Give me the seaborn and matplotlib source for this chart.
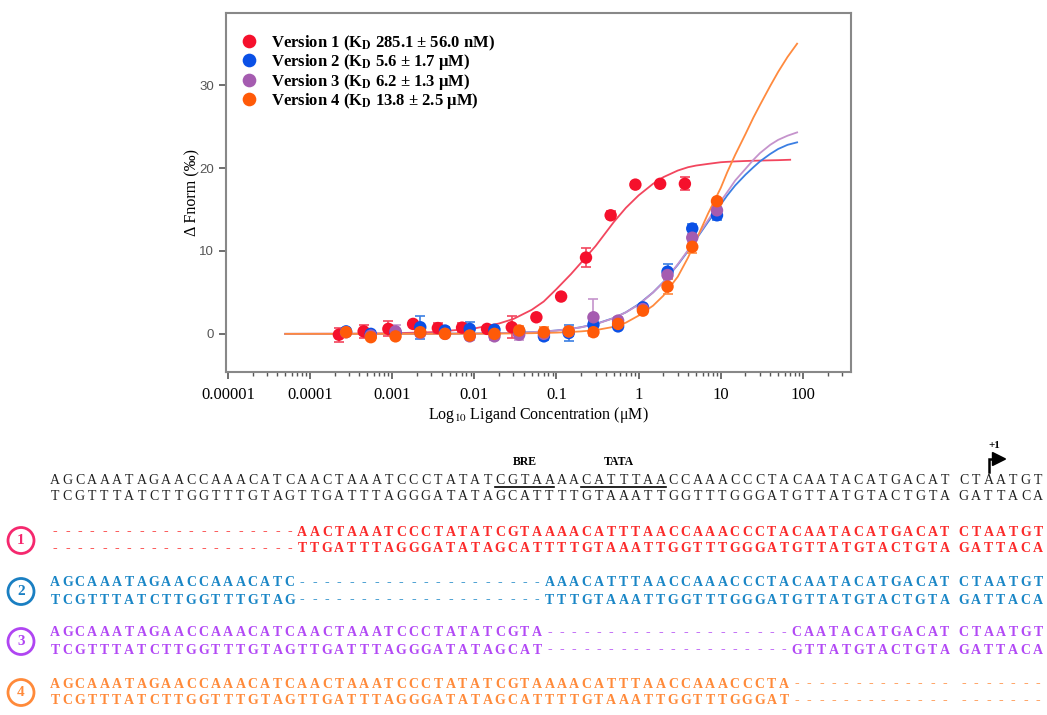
"""MST binding curves for four promoter versions plus the sequence alignment."""

import matplotlib

matplotlib.use("Agg")

import matplotlib.pyplot as plt
import pandas as pd
import seaborn as sns
from matplotlib.patches import Circle, Polygon
from matplotlib.ticker import LogLocator, NullFormatter

VERSIONS = ["Version 1", "Version 2", "Version 3", "Version 4"]
LEGEND_LABELS = [
    r"Version 1 (K$_{\mathbf{D}}$ 285.1 ± 56.0 nM)",
    r"Version 2 (K$_{\mathbf{D}}$ 5.6 ± 1.7 μM)",
    r"Version 3 (K$_{\mathbf{D}}$ 6.2 ± 1.3 μM)",
    r"Version 4 (K$_{\mathbf{D}}$ 13.8 ± 2.5 μM)",
]
POINT_COLORS = ["#f5102c", "#0a50e6", "#a55cb0", "#ff5a08"]
LINE_COLORS = ["#f2465e", "#3b7fe3", "#c593cc", "#ff8a3e"]

# ligand concentrations (uM)
conc_v1 = [0.000225, 0.00045, 0.0009, 0.0018, 0.0036, 0.0071, 0.0143, 0.0286,
           0.057, 0.114, 0.229, 0.457, 0.914, 1.83, 3.66]
conc_v234 = [0.000275, 0.00055, 0.0011, 0.0022, 0.0044, 0.0088, 0.0176, 0.0352,
             0.0704, 0.141, 0.282, 0.563, 1.13, 2.25, 4.5, 9.0]

fnorm_v1 = [-0.1, 0.3, 0.6, 1.2, 0.7, 0.75, 0.6, 0.8, 2.0, 4.5, 9.2, 14.3, 18.0, 18.1, 18.1]
err_v1 = [0.85, 0.75, 0.9, 0.3, 0.6, 0.5, 0.4, 1.3, 0.2, 0.3, 1.1, 0.5, 0.3, 0.3, 0.8]
fnorm_v2 = [0.3, 0.0, 0.2, 0.8, 0.4, 0.6, 0.5, 0.3, -0.3, 0.1, 1.1, 0.9, 3.2, 7.5, 12.7, 14.3]
err_v2 = [0.4, 0.3, 0.4, 1.4, 0.4, 0.8, 0.4, 0.3, 0.5, 1.0, 0.4, 0.3, 0.3, 0.9, 0.6, 0.6]
fnorm_v3 = [0.2, -0.2, 0.3, 0.1, 0.0, -0.3, -0.3, -0.1, 0.0, 0.3, 2.0, 1.6, 3.0, 7.1, 11.6, 14.9]
err_v3 = [0.3, 0.4, 0.8, 0.4, 0.3, 0.4, 0.4, 0.7, 0.3, 0.3, 2.2, 0.4, 0.3, 0.5, 0.5, 0.4]
fnorm_v4 = [0.2, -0.4, -0.3, 0.2, 0.0, -0.2, 0.0, 0.4, 0.2, 0.3, 0.2, 1.2, 2.8, 5.7, 10.5, 16.0]
err_v4 = [0.4, 0.3, 0.2, 0.5, 0.2, 0.3, 0.3, 0.5, 0.6, 0.5, 0.3, 0.4, 0.3, 0.9, 0.8, 0.3]

# fitted curves
curve_conc = [0.00005, 0.0001, 0.0003, 0.001, 0.003, 0.01, 0.02, 0.03, 0.05, 0.07,
              0.1, 0.15, 0.2, 0.3, 0.5, 0.7, 1, 1.5, 2, 3, 4, 5, 7, 10, 12, 15, 20,
              25, 30, 40, 50, 65, 85]
curve_conc_v1 = curve_conc[:-2] + [70]
curve_v1 = [0.0, 0.01, 0.02, 0.07, 0.2, 0.65, 1.25, 1.8, 2.9, 3.9, 5.4, 7.2, 8.6, 10.6,
            13.5, 15.2, 16.7, 18.1, 18.9, 19.7, 20.1, 20.3, 20.5, 20.7, 20.75, 20.8,
            20.85, 20.88, 20.9, 20.93, 20.95, 21.0]
curve_v2 = [0.0, 0.0, 0.0, 0.004, 0.012, 0.04, 0.08, 0.12, 0.21, 0.29, 0.41, 0.61, 0.81,
            1.19, 1.92, 2.6, 3.57, 5.0, 6.25, 8.33, 10.0, 11.4, 13.5, 15.6, 16.7, 17.9,
            19.2, 20.1, 20.8, 21.7, 22.3, 22.8, 23.1]
curve_v3 = [0.0, 0.0, 0.0, 0.004, 0.012, 0.04, 0.08, 0.12, 0.2, 0.28, 0.4, 0.6, 0.79,
            1.17, 1.9, 2.6, 3.5, 5.0, 6.2, 8.4, 10.1, 11.5, 13.7, 16.0, 17.1, 18.5,
            19.9, 21.0, 21.8, 22.8, 23.4, 23.9, 24.3]
curve_v4 = [0.0, 0.0, 0.0, 0.0, 0.005, 0.02, 0.035, 0.05, 0.08, 0.11, 0.15, 0.23, 0.3,
            0.45, 0.85, 1.35, 2.2, 3.4, 4.6, 6.9, 9.2, 11.3, 14.5, 17.6, 19.5, 21.6,
            24.1, 26.1, 27.6, 29.9, 31.6, 33.4, 35.0]

XTICKS = [1e-5, 1e-4, 1e-3, 1e-2, 1e-1, 1, 10, 100]
XTICK_LABELS = ["0.00001", "0.0001", "0.001", "0.01", "0.1", "1", "10", "100"]
YTICKS = [0, 10, 20, 30]

# promoter sequences
REF_TOP = "AGCAAATAGAACCAAACATCAACTAAATCCCTATATCGTAAAACATTTAACCAAACCCTACAATACATGACATCTAATGT"
REF_BOTTOM = "TCGTTTATCTTGGTTTGTAGTTGATTTAGGGATATAGCATTTTGTAAATTGGTTTGGGATGTTATGTACTGTAGATTACA"
VARIANT_TOP = [
    "--------------------AACTAAATCCCTATATCGTAAAACATTTAACCAAACCCTACAATACATGACATCTAATGT",
    "AGCAAATAGAACCAAACATC--------------------AAACATTTAACCAAACCCTACAATACATGACATCTAATGT",
    "AGCAAATAGAACCAAACATCAACTAAATCCCTATATCGTA--------------------CAATACATGACATCTAATGT",
    "AGCAAATAGAACCAAACATCAACTAAATCCCTATATCGTAAAACATTTAACCAAACCCTA--------------------",
]
VARIANT_BOTTOM = [
    "--------------------TTGATTTAGGGATATAGCATTTTGTAAATTGGTTTGGGATGTTATGTACTGTAGATTACA",
    "TCGTTTATCTTGGTTTGTAG--------------------TTTGTAAATTGGTTTGGGATGTTATGTACTGTAGATTACA",
    "TCGTTTATCTTGGTTTGTAGTTGATTTAGGGATATAGCAT--------------------GTTATGTACTGTAGATTACA",
    "TCGTTTATCTTGGTTTGTAGTTGATTTAGGGATATAGCATTTTGTAAATTGGTTTGGGAT--------------------",
]
VARIANT_NAMES = ["1", "2", "3", "4"]
VARIANT_TEXT_COLORS = ["#fb2a2a", "#1a86c6", "#b249f5", "#ff8a3a"]
VARIANT_CIRCLE_COLORS = ["#f5286e", "#1a7fc2", "#b045f2", "#ff8a3a"]
BRE_SPAN = (36, 40)
TATA_SPAN = (43, 49)

plt.rcParams["mathtext.fontset"] = "stix"
SERIF = "Liberation Serif"
SANS = "Liberation Sans"

W, H = 1047, 715
fig = plt.figure(figsize=(W / 100, H / 100), dpi=100)

# ---- sequence alignment (pixel coordinates of the figure) ----
seq_ax = fig.add_axes([0, 0, 1, 1])
seq_ax.set_xlim(0, W)
seq_ax.set_ylim(H, 0)
seq_ax.axis("off")

x0, dx, gap = 55, 12.36, 6.5


def col_x(i):
    return x0 + i * dx + (gap if i >= 73 else 0)


def draw_row(s, y, color, weight):
    for i, ch in enumerate(s):
        seq_ax.text(col_x(i), y, ch, ha="center", va="center", color=color,
                    fontsize=10, family=SERIF, fontweight=weight)


draw_row(REF_TOP, 480, "#222222", "normal")
draw_row(REF_BOTTOM, 496, "#222222", "normal")
for lo, hi in (BRE_SPAN, TATA_SPAN):
    seq_ax.plot([col_x(lo) - 5, col_x(hi) + 5], [486.5, 486.5], color="black", lw=1.2)
seq_ax.text((col_x(BRE_SPAN[0]) + col_x(BRE_SPAN[1])) / 2, 462, "BRE", ha="center",
            va="center", fontsize=8.5, family=SERIF, fontweight="bold")
seq_ax.text((col_x(TATA_SPAN[0]) + col_x(TATA_SPAN[1])) / 2 - 5, 462, "TATA",
            ha="center", va="center", fontsize=8.5, family=SERIF, fontweight="bold")

# transcription start arrow
tss = col_x(75)
seq_ax.plot([tss, tss, tss + 5], [472, 459, 459], color="black", lw=1.8,
            solid_joinstyle="miter")
seq_ax.add_patch(Polygon([(tss + 4, 452.5), (tss + 4, 465.5), (tss + 17, 459)],
                         closed=True, color="black"))
seq_ax.text(tss + 6, 446, "+1", ha="center", va="center", fontsize=8, family=SERIF,
            fontweight="bold")

row_y = [532, 583, 633, 684]
for k in range(4):
    y = row_y[k]
    draw_row(VARIANT_TOP[k], y, VARIANT_TEXT_COLORS[k], "bold")
    draw_row(VARIANT_BOTTOM[k], y + 17, VARIANT_TEXT_COLORS[k], "bold")
    seq_ax.add_patch(Circle((21, y + 8.5), 13, fill=False, ec=VARIANT_CIRCLE_COLORS[k], lw=2))
    seq_ax.text(21, y + 8.5, VARIANT_NAMES[k], ha="center", va="center", fontsize=11,
                family=SERIF, fontweight="bold", color=VARIANT_CIRCLE_COLORS[k])

# ---- binding curves ----
ax = fig.add_axes([226 / W, 1 - 372 / H, (851 - 226) / W, (372 - 13) / H])
ax.set_xscale("log")

points = pd.concat([
    pd.DataFrame({"conc": c, "fnorm": f, "err": e, "version": v})
    for c, f, e, v in zip([conc_v1, conc_v234, conc_v234, conc_v234],
                          [fnorm_v1, fnorm_v2, fnorm_v3, fnorm_v4],
                          [err_v1, err_v2, err_v3, err_v4], VERSIONS)
], ignore_index=True)
curves = pd.concat([
    pd.DataFrame({"conc": c, "fnorm": f, "version": v})
    for c, f, v in zip([curve_conc_v1, curve_conc, curve_conc, curve_conc],
                       [curve_v1, curve_v2, curve_v3, curve_v4], VERSIONS)
], ignore_index=True)

sns.lineplot(data=curves, x="conc", y="fnorm", hue="version", hue_order=VERSIONS,
             palette=dict(zip(VERSIONS, LINE_COLORS)), estimator=None, legend=False,
             lw=1.3, ax=ax, zorder=2)
for v, col in zip(VERSIONS, LINE_COLORS):
    sub = points[points["version"] == v]
    ax.errorbar(sub["conc"], sub["fnorm"], yerr=sub["err"], fmt="none", ecolor=col,
                elinewidth=1.2, capsize=3.5, capthick=1.2, zorder=3)
sns.scatterplot(data=points, x="conc", y="fnorm", hue="version", hue_order=VERSIONS,
                palette=dict(zip(VERSIONS, POINT_COLORS)), s=80, edgecolor="none",
                linewidth=0, ax=ax, zorder=4)

ax.set_xlim(9.5e-6, 385)
ax.set_ylim(-4.6, 38.7)
ax.set_xticks(XTICKS)
ax.set_xticklabels(XTICK_LABELS, family=SERIF, fontsize=12)
ax.xaxis.set_minor_locator(LogLocator(base=10, subs=range(2, 10), numticks=20))
ax.xaxis.set_minor_formatter(NullFormatter())
ax.set_yticks(YTICKS)
ax.set_yticklabels([str(t) for t in YTICKS], family=SANS, fontsize=9.5, color="#555555")
ax.tick_params(axis="both", which="major", direction="out", length=5, width=1.2,
               color="#555555")
ax.tick_params(axis="x", which="minor", direction="out", length=3, width=1.0,
               color="#555555")
ax.tick_params(axis="x", which="major", pad=6)
for sp in ax.spines.values():
    sp.set_color("#888888")
    sp.set_linewidth(1.5)

ax.set_xlabel(r"Log$_{10}$ Ligand Concentration (μM)", family=SERIF, fontsize=11.5,
              labelpad=1)
ax.set_ylabel("Δ Fnorm (‰)", family=SERIF, fontsize=11.5, labelpad=-1)

handles, _ = ax.get_legend_handles_labels()
ax.legend(handles, LEGEND_LABELS, loc="upper left", bbox_to_anchor=(-0.008, 0.985),
          frameon=False, markerscale=1.1, handletextpad=0.5, labelspacing=-0.03,
          handlelength=1.6, prop={"family": SERIF, "weight": "bold", "size": 12})

fig.savefig("out.png", dpi=100)
plt.close(fig)
